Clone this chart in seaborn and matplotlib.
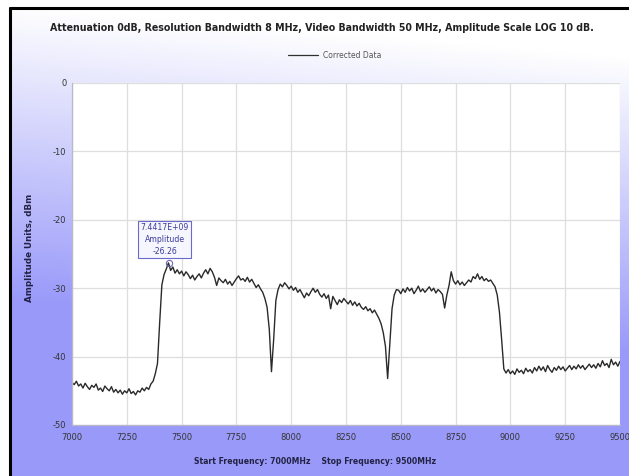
import numpy as np
import pandas as pd
import matplotlib
matplotlib.use("Agg")
import matplotlib.pyplot as plt
from matplotlib.lines import Line2D
import seaborn as sns

# Sweep settings
START_MHZ = 7000
STOP_MHZ = 9500

# Corrected trace, one reading every 10 MHz from START_MHZ to STOP_MHZ (dBm)
amplitude_dbm = [
    # 7000
    -43.8, -44.1, -43.6, -44.3, -44.0, -44.6, -43.9, -44.4, -44.8, -44.2,
    # 7100
    -44.5, -44.0, -44.9, -44.6, -45.1, -44.3, -44.7, -45.0, -44.4, -45.2,
    # 7200
    -44.8, -45.3, -44.9, -45.5, -45.0, -45.3, -44.7, -45.4, -45.1, -45.6,
    # 7300
    -45.0, -45.2, -44.6, -45.0, -44.5, -44.8, -44.0, -43.6, -42.5, -41.0,
    # 7400
    -35.0, -29.5, -28.0, -27.2, -26.3, -27.4, -26.9, -27.8, -27.3, -27.9,
    # 7500
    -27.5, -28.2, -27.6, -28.0, -28.6, -28.1, -28.8, -28.3, -27.9, -28.5,
    # 7600
    -27.8, -27.3, -27.9, -27.1, -27.6, -28.4, -29.6, -28.5, -28.9, -29.2,
    # 7700
    -28.7, -29.4, -29.0, -29.6, -29.1, -28.6, -28.2, -28.8, -28.6, -29.0,
    # 7800
    -28.4, -29.1, -28.7, -29.3, -29.9, -29.5, -30.1, -30.6, -31.5, -32.8,
    # 7900
    -36.0, -42.2, -37.5, -31.8, -30.2, -29.4, -29.8, -29.2, -29.6, -30.1,
    # 8000
    -29.7, -30.3, -29.9, -30.6, -30.2, -30.8, -31.4, -30.7, -31.1, -30.5,
    # 8100
    -30.0, -30.6, -30.2, -30.9, -31.3, -30.8, -31.5, -31.0, -33.0, -31.2,
    # 8200
    -31.8, -32.4, -31.7, -32.1, -31.5, -31.9, -32.3, -31.8, -32.5, -32.0,
    # 8300
    -32.6, -32.2, -32.8, -33.1, -32.7, -33.3, -33.0, -33.6, -33.2, -33.8,
    # 8400
    -34.4, -35.2, -36.5, -38.5, -43.2, -38.0, -33.0, -31.0, -30.2, -30.3,
    # 8500
    -30.8, -30.1, -30.6, -29.9, -30.4, -30.0, -30.8, -30.3, -29.7, -30.5,
    # 8600
    -30.1, -30.6, -30.2, -29.8, -30.4, -30.0, -30.7, -30.2, -30.5, -30.9,
    # 8700
    -32.9, -31.0, -29.6, -27.6, -28.9, -29.4, -28.9, -29.5, -29.1, -29.6,
    # 8800
    -29.2, -28.8, -29.1, -28.3, -28.6, -27.9, -28.7, -28.3, -28.9, -28.6,
    # 8900
    -29.0, -28.8, -29.3, -29.8, -31.0, -33.5, -37.5, -41.8, -42.4, -41.9,
    # 9000
    -42.5, -42.1, -42.6, -41.8, -42.3, -42.0, -42.5, -41.7, -42.2, -41.9,
    # 9100
    -42.4, -41.6, -42.1, -41.4, -42.0, -41.5, -42.2, -41.3, -41.9, -42.3,
    # 9200
    -41.6, -42.0, -41.4, -41.9, -41.5, -42.1, -41.7, -41.3, -41.9, -41.4,
    # 9300
    -41.8, -41.2, -41.7, -41.3, -41.9, -41.5, -41.1, -41.6, -41.2, -41.7,
    # 9400
    -41.0, -41.5, -40.6, -41.3, -41.0, -41.6, -40.4, -41.2, -40.8, -41.4,
    # 9500
    -40.7,
]

# Peak marker
marker_freq_mhz = 7441.7
marker_amp_dbm = -26.26

x_ticks = [7000, 7250, 7500, 7750, 8000, 8250, 8500, 8750, 9000, 9250, 9500]
y_ticks = [0, -10, -20, -30, -40, -50]

title = ("Attenuation 0dB, Resolution Bandwidth 8 MHz, Video Bandwidth 50 MHz, "
         "Amplitude Scale LOG 10 dB.")
series_name = "Corrected Data"
y_label = "Amplitude Units, dBm"
x_label = "Start Frequency: 7000MHz    Stop Frequency: 9500MHz"

freq_mhz = np.linspace(START_MHZ, STOP_MHZ, len(amplitude_dbm))
df = pd.DataFrame({"freq": freq_mhz, "amp": amplitude_dbm})

sns.set_style("white")
plt.rcParams["font.family"] = ["DejaVu Sans"]

W, H = 629, 476
fig = plt.figure(figsize=(W / 100, H / 100), dpi=100)

# Background: white at top fading to periwinkle toward the lower left
bg = fig.add_axes([0, 0, 1, 1], zorder=-10)
yy, xx = np.mgrid[0:H, 0:W]
t = np.clip((yy / H - 0.12) / 0.62 + 0.18 * (1 - xx / W), 0, 1)
top = np.array([1.0, 1.0, 1.0])
bottom = np.array([0.60, 0.60, 0.98])
img = top[None, None, :] * (1 - t[..., None]) + bottom[None, None, :] * t[..., None]
# plain white margin outside the frame
img[:8, :, :] = 1.0
img[:, :10, :] = 1.0
bg.imshow(img, aspect="auto", extent=[0, 1, 0, 1], origin="upper")
bg.set_axis_off()

# Frame lines (top and left)
fig.add_artist(Line2D([10 / W, 1], [1 - 8 / H, 1 - 8 / H], color="black", lw=2.2))
fig.add_artist(Line2D([10 / W, 10 / W], [0, 1 - 8 / H], color="black", lw=2.2))

left, right = 72 / W, 620 / W
top_px, bot_px = 83, 425
ax = fig.add_axes([left, 1 - bot_px / H, right - left, (bot_px - top_px) / H])
ax.set_facecolor("white")

sns.lineplot(data=df, x="freq", y="amp", ax=ax, color="#2a2a2a", lw=1.0,
             label=series_name, legend=False)

ax.set_xlim(START_MHZ, STOP_MHZ)
ax.set_ylim(-50, 0)
ax.set_xticks(x_ticks)
ax.set_yticks(y_ticks)
ax.set_xticklabels([str(v) for v in x_ticks])
ax.set_yticklabels([str(v) for v in y_ticks])
ax.grid(True, color="#dedede", lw=0.9)
ax.set_axisbelow(True)
for side in ["top", "right"]:
    ax.spines[side].set_visible(False)
for side in ["left", "bottom"]:
    ax.spines[side].set_color("#b8b8c8")
    ax.spines[side].set_linewidth(0.9)
ax.tick_params(axis="both", labelsize=6, colors="#333333", length=2, width=0.6,
               pad=2)
ax.tick_params(axis="x", pad=4)
ax.set_xlabel("")
ax.set_ylabel("")

# Peak marker with its readout
ax.plot([marker_freq_mhz], [marker_amp_dbm], marker="o", ms=4.5, mfc="none",
        mec="#6a6ab8", mew=0.8, zorder=5)
ax.annotate(f"{marker_freq_mhz * 1e6:.4E}\nAmplitude\n{marker_amp_dbm:.2f}",
            xy=(marker_freq_mhz, marker_amp_dbm), xytext=(-3, 5),
            textcoords="offset points", ha="center", va="bottom",
            fontsize=5.6, color="#3c3c9c", linespacing=1.4,
            bbox=dict(boxstyle="square,pad=0.3", fc="#f6f6ff", ec="#6a6acc",
                      lw=0.8))

# Title, legend and axis captions
fig.text(322 / W, 1 - 28 / H, title, ha="center", va="center", fontsize=6.85,
         fontweight="bold", color="#222222")
fig.add_artist(Line2D([288 / W, 318 / W], [1 - 55 / H, 1 - 55 / H],
                      color="#303030", lw=0.9))
fig.text(323 / W, 1 - 55 / H, series_name, ha="left", va="center", fontsize=5.5,
         color="#555555")
fig.text(30 / W, 1 - 248 / H, y_label, ha="center", va="center", rotation=90,
         fontsize=6.3, fontweight="bold", color="#222244")
fig.text(315 / W, 1 - 462 / H, x_label, ha="center", va="center", fontsize=5.6,
         fontweight="bold", color="#222244")

fig.savefig("out.png", dpi=100)
